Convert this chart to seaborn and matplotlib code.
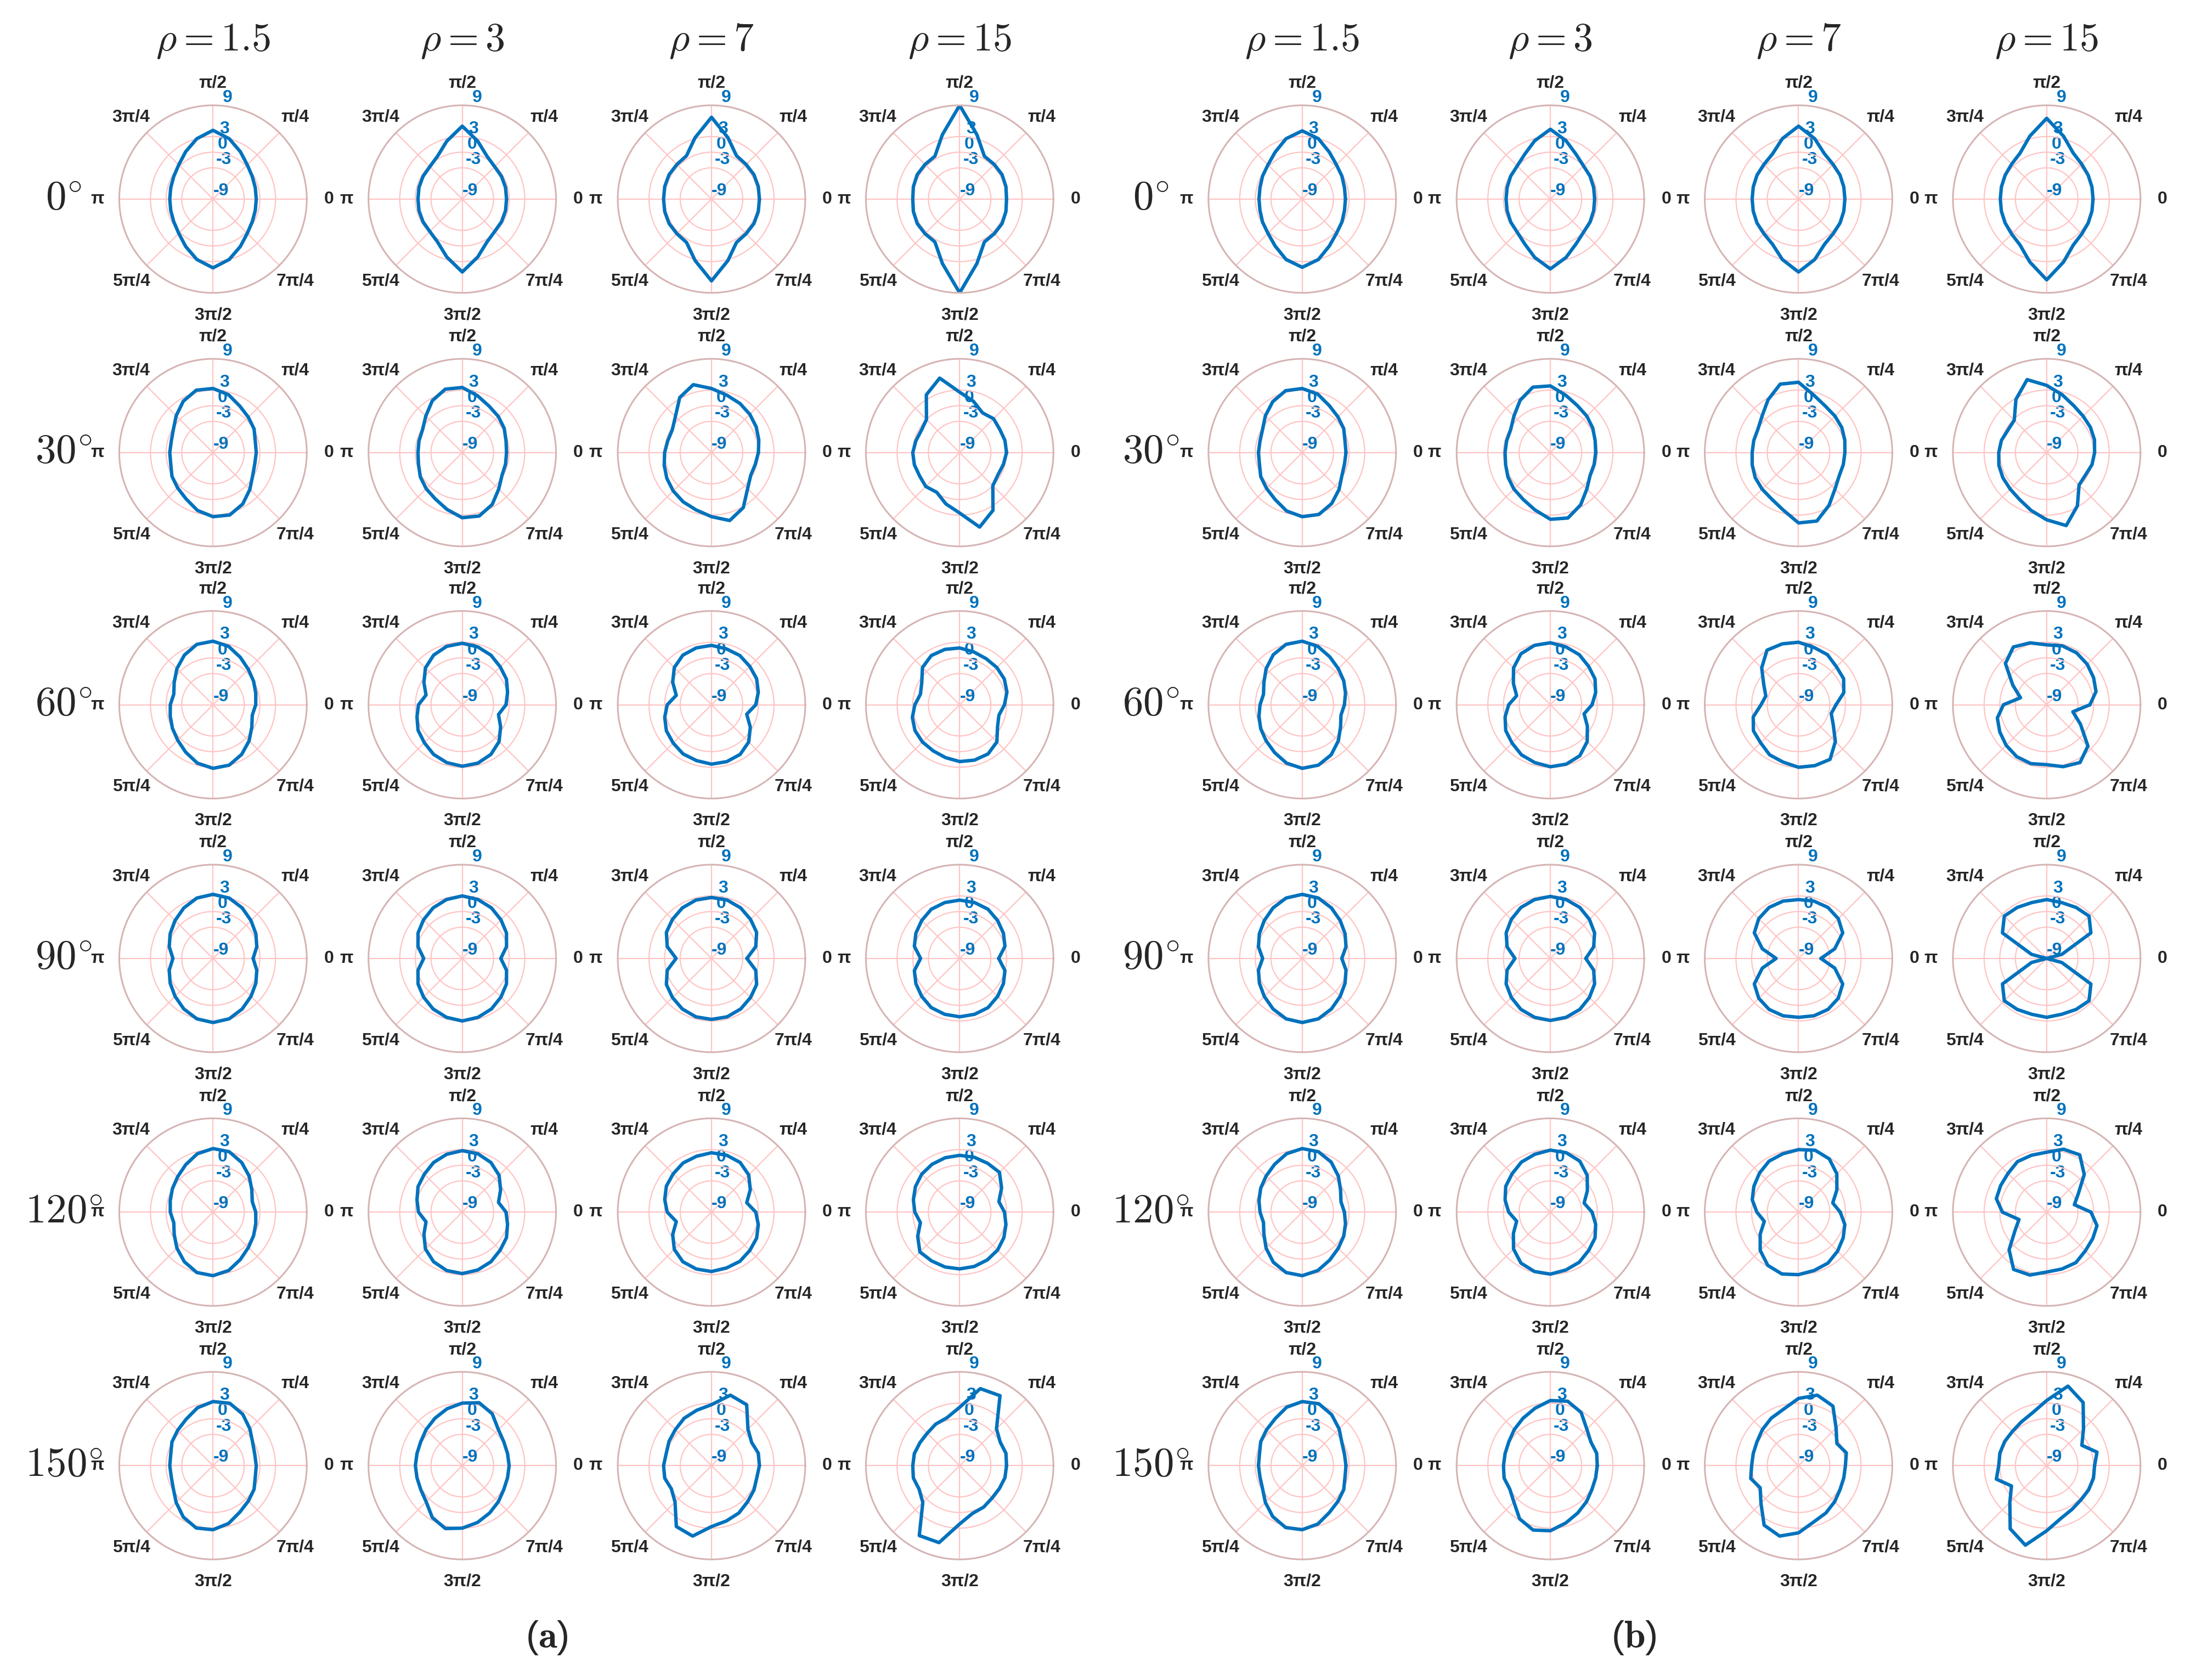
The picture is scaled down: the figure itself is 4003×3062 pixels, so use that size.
import numpy as np
import pandas as pd
import matplotlib
matplotlib.use("Agg")
import matplotlib.pyplot as plt
import seaborn as sns

# ---------------- data (dB values at 0,15,...,165 deg; pattern is centrally symmetric) ----------------
angles_deg = [0, 15, 30, 45, 60, 75, 90, 105, 120, 135, 150, 165]
row_labels = ["0", "30", "60", "90", "120", "150"]
rho_labels = ["1.5", "3", "7", "15"]
r_ticks = [-9, -3, 0, 3, 9]
theta_tick_labels = ["0", "π/4", "π/2", "3π/4", "π", "5π/4", "3π/2", "7π/4"]

a_r1p5 = [
    [-0.7, -0.6, -0.3, 0.3, 1.5, 3.0, 4.2, 3.0, 1.5, 0.3, -0.3, -0.6],
    [-0.7, -0.6, 0.1, 0.6, 1.3, 2.5, 3.3, 3.4, 2.4, 1.0, -0.2, -0.7],
    [-0.8, -0.5, 0.0, 0.6, 1.5, 2.6, 3.2, 3.0, 2.0, 0.8, -0.4, -1.2],
    [-1.3, -0.3, 0.5, 1.3, 2.2, 3.0, 3.3, 3.0, 2.2, 1.3, 0.5, -0.3],
    [-0.8, -1.2, -0.4, 0.8, 2.0, 3.0, 3.2, 2.6, 1.5, 0.6, 0.0, -0.5],
    [-0.7, -0.7, -0.2, 1.0, 2.4, 3.4, 3.3, 2.5, 1.3, 0.6, 0.1, -0.6],
]
a_r3 = [
    [-0.5, -0.4, -0.3, -0.2, 0.5, 2.5, 5.0, 2.5, 0.5, -0.2, -0.3, -0.4],
    [-0.5, -0.3, 0.3, 0.8, 1.3, 2.3, 3.5, 3.6, 2.5, 0.9, -0.2, -0.4],
    [-0.6, 0.0, 0.8, 1.3, 2.0, 2.5, 2.8, 2.6, 2.0, 1.0, -0.5, -1.8],
    [-1.6, -0.2, 0.8, 1.5, 2.2, 2.7, 3.0, 2.7, 2.2, 1.5, 0.8, -0.2],
    [-0.6, -1.8, -0.5, 1.0, 2.0, 2.6, 2.8, 2.5, 2.0, 1.3, 0.8, 0.0],
    [0.0, 0.0, 0.2, 0.8, 2.5, 3.5, 3.0, 2.3, 1.5, 0.8, 0.2, 0.0],
]
a_r7 = [
    [0.2, 0.3, 0.4, 0.4, 0.6, 3.2, 6.7, 3.2, 0.6, 0.4, 0.4, 0.3],
    [0.0, 0.4, 0.9, 1.4, 1.9, 2.4, 3.3, 4.5, 3.2, 0.8, -0.3, -0.3],
    [-0.5, 0.3, 1.0, 1.4, 1.9, 2.1, 2.4, 2.3, 2.0, 1.1, -0.4, -2.0],
    [-2.2, -0.2, 1.0, 1.6, 2.2, 2.6, 2.7, 2.6, 2.2, 1.6, 1.0, -0.2],
    [-0.5, -2.0, -0.4, 1.1, 2.0, 2.3, 2.4, 2.1, 1.9, 1.4, 1.0, 0.3],
    [0.2, 0.3, -0.1, 0.9, 4.5, 5.0, 2.7, 2.0, 1.5, 0.8, 0.4, 0.0],
]
a_r15 = [
    [0.0, 0.2, 0.4, 0.4, 0.5, 3.8, 9.0, 3.8, 0.5, 0.4, 0.4, 0.2],
    [0.0, 0.0, -0.1, 0.2, -0.2, 1.2, 2.6, 5.8, 3.8, 0.0, -0.5, -0.3],
    [-0.4, 0.4, 0.9, 1.1, 1.2, 1.5, 1.9, 2.0, 1.9, 1.1, -0.6, -1.2],
    [-1.5, 0.0, 0.7, 1.3, 1.9, 2.1, 2.2, 2.1, 1.9, 1.3, 0.7, 0.0],
    [-0.4, -1.2, 0.3, 1.8, 1.8, 1.9, 1.9, 1.8, 1.6, 1.3, 0.8, 0.2],
    [0.0, 0.2, 0.0, 1.0, 6.5, 6.3, 2.2, 0.5, 0.2, -0.2, -0.2, 0.0],
]
b_r1p5 = [
    [-0.7, -0.6, -0.2, 0.3, 1.4, 3.0, 4.1, 3.0, 1.4, 0.3, -0.2, -0.6],
    [-0.6, -0.5, 0.2, 0.7, 1.4, 2.6, 3.3, 3.3, 2.3, 1.0, -0.2, -0.6],
    [-0.9, -0.4, 0.2, 0.8, 1.6, 2.6, 3.2, 3.0, 2.1, 0.8, -0.5, -1.3],
    [-1.4, -0.3, 0.5, 1.3, 2.2, 3.0, 3.3, 3.0, 2.2, 1.3, 0.5, -0.3],
    [-0.9, -1.3, -0.5, 0.8, 2.1, 3.0, 3.2, 2.6, 1.6, 0.8, 0.2, -0.4],
    [-0.6, -0.6, -0.2, 1.0, 2.3, 3.3, 3.3, 2.6, 1.4, 0.7, 0.2, -0.5],
]
b_r3 = [
    [-0.5, -0.4, -0.2, 0.0, 0.9, 2.6, 4.4, 2.6, 0.9, 0.0, -0.2, -0.4],
    [-0.3, -0.1, 0.4, 0.9, 1.4, 2.4, 3.8, 4.0, 2.6, 0.9, -0.2, -0.3],
    [-1.0, 0.0, 0.9, 1.4, 2.1, 2.5, 2.9, 2.8, 2.3, 1.0, -0.8, -2.3],
    [-2.2, -0.4, 0.8, 1.6, 2.3, 2.7, 2.9, 2.7, 2.3, 1.6, 0.8, -0.4],
    [-1.0, -2.3, -0.8, 1.0, 2.3, 2.8, 2.9, 2.5, 2.1, 1.4, 0.9, 0.0],
    [0.0, 0.2, 0.0, 0.9, 2.8, 3.8, 3.5, 2.4, 1.5, 0.8, 0.2, 0.0],
]
b_r7 = [
    [-0.1, 0.0, 0.2, 0.4, 1.0, 3.0, 5.0, 3.0, 1.0, 0.4, 0.2, 0.0],
    [-0.1, 0.2, 0.6, 0.9, 1.3, 2.4, 4.5, 4.6, 2.7, 0.9, 0.0, -0.1],
    [-1.8, 0.0, 1.0, 1.3, 2.1, 2.4, 3.0, 3.1, 3.1, 1.0, -1.3, -2.5],
    [-4.7, -1.8, 0.8, 1.8, 2.3, 2.4, 2.3, 2.4, 2.3, 1.8, 0.8, -1.8],
    [-1.0, -2.2, -0.5, 1.4, 2.8, 3.3, 3.0, 2.6, 2.3, 1.6, 0.9, 0.2],
    [0.0, 0.5, -0.5, 1.2, 4.2, 5.0, 3.9, 2.2, 1.5, 0.8, 0.2, 0.0],
]
b_r15 = [
    [-0.1, 0.0, 0.2, 0.5, 1.2, 3.5, 6.5, 3.5, 1.2, 0.5, 0.2, 0.0],
    [0.2, 0.5, 0.7, 0.9, 1.4, 2.5, 3.9, 5.5, 2.8, -0.2, -0.4, 0.0],
    [-0.7, 0.8, 1.4, 2.0, 2.5, 2.7, 2.5, 3.3, 3.8, 2.2, -1.5, -3.8],
    [-9.0, -6.0, 0.8, 2.5, 2.3, 2.1, 2.3, 2.1, 2.3, 2.5, 0.8, -6.0],
    [-0.5, -3.5, -2.0, 1.2, 3.7, 3.5, 2.5, 2.3, 2.2, 1.5, 1.2, 1.0],
    [0.2, 1.0, -1.2, 1.0, 5.0, 6.8, 3.5, 1.5, 0.7, 0.3, 0.3, 0.3],
]
halves = {"a": [a_r1p5, a_r3, a_r7, a_r15], "b": [b_r1p5, b_r3, b_r7, b_r15]}

# ---------------- styling ----------------
sns.set_theme(style="white")
plt.rcParams["font.family"] = ["Liberation Sans", "DejaVu Sans"]
plt.rcParams["mathtext.fontset"] = "cm"

BLUE = "#0072BD"
W, H = 4003, 3062
fig = plt.figure(figsize=(W / 100, H / 100), dpi=100)

col_x = {"a": [0.097, 0.2105, 0.324, 0.437], "b": [0.593, 0.706, 0.819, 0.932]}
row_y = [0.1185, 0.2694, 0.4195, 0.5705, 0.7215, 0.8724]
rw = 0.0427 * 2
rh = rw * W / H

theta_full = np.deg2rad(np.array(angles_deg + [a + 180 for a in angles_deg] + [360]))

for half, cols in halves.items():
    for ci, panel_rows in enumerate(cols):
        cx = col_x[half][ci]
        for ri, vals in enumerate(panel_rows):
            cy = 1 - row_y[ri]
            ax = fig.add_axes([cx - rw / 2, cy - rh / 2, rw, rh], projection="polar")
            r_full = list(vals) + list(vals) + [vals[0]]
            df = pd.DataFrame({"theta": theta_full, "r": r_full})
            sns.lineplot(data=df, x="theta", y="r", sort=False, estimator=None,
                         color=BLUE, lw=4.5, ax=ax)
            ax.set_ylim(-9, 9)
            ax.set_yticks(r_ticks)
            ax.set_yticklabels([str(t) for t in r_ticks], color=BLUE,
                               fontsize=23, fontweight="bold")
            ax.set_rlabel_position(84)
            ax.set_xticks(np.deg2rad(np.arange(0, 360, 45)))
            ax.set_xticklabels(theta_tick_labels, fontsize=23, fontweight="bold",
                               color="#262626")
            ax.tick_params(axis="x", pad=16)
            ax.grid(True, color="#ffc4c4", lw=1.6)
            ax.spines["polar"].set_color("#d6b4b4")
            ax.spines["polar"].set_linewidth(2.2)
            ax.set_xlabel("")
            ax.set_ylabel("")
            if ri == 0:
                ax.set_title(r"$\rho = %s$" % rho_labels[ci], fontsize=52, pad=72)

    lx = 0.029 if half == "a" else 0.524
    for ri, lab in enumerate(row_labels):
        fig.text(lx, 1 - row_y[ri], r"$%s^{\circ}$" % lab, fontsize=54,
                 ha="center", va="center")

fig.text(0.249, 0.025, r"($\mathbf{a}$)", fontsize=50, ha="center", va="center")
fig.text(0.744, 0.025, r"($\mathbf{b}$)", fontsize=50, ha="center", va="center")

fig.savefig("out.png", dpi=100, facecolor="white")
